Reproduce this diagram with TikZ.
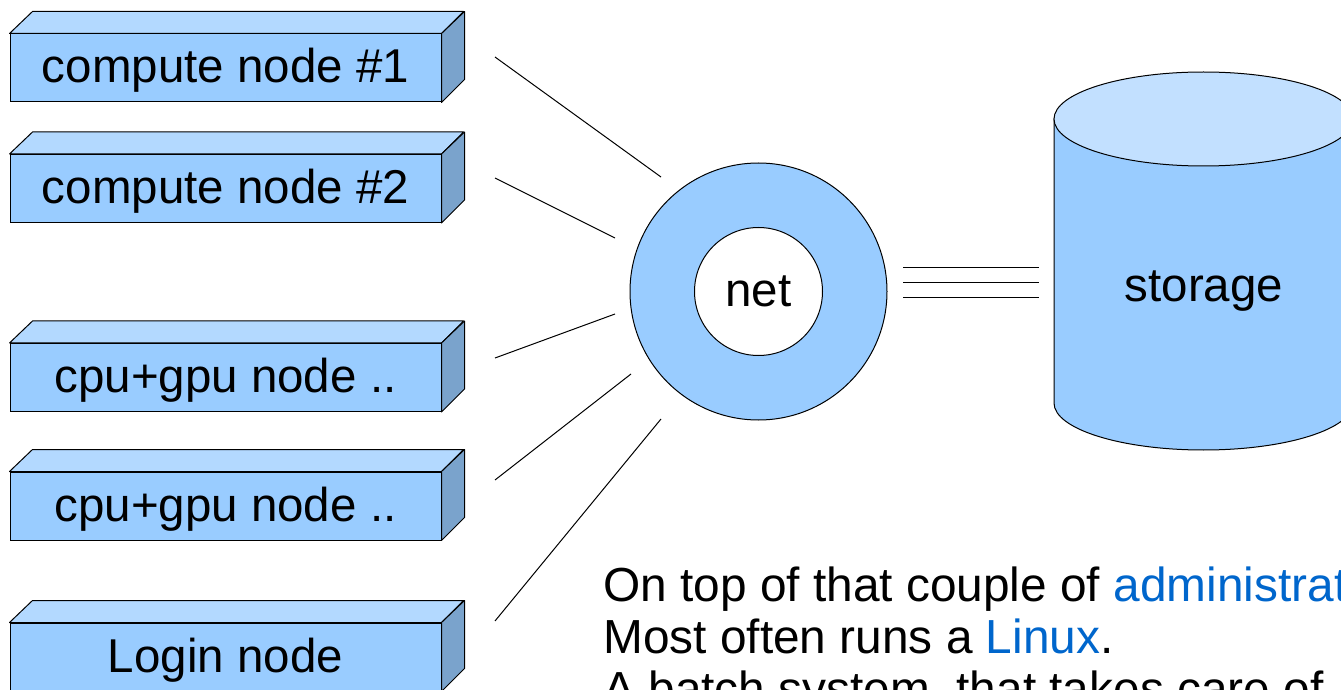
\documentclass[tikz,border=0pt]{standalone}
\usepackage{fontspec}
\setmainfont{Liberation Sans}
\usetikzlibrary{positioning,calc}
\definecolor{nodeblue}{HTML}{99CCFF}
\definecolor{nodetop}{HTML}{B3D9FF}
\definecolor{nodeside}{HTML}{7AA3CC}
\definecolor{disktop}{HTML}{C2E0FF}
\definecolor{linkblue}{HTML}{0066CC}

\begin{document}
\begin{tikzpicture}[
    x=0.5pt, y=-0.5pt,
    big/.style={font=\fontsize{23.75}{26}\selectfont},
    lbl/.style={big, text height=17.5pt, text depth=2.5pt},
    hw/.style={draw, fill=nodeblue, minimum width=215.5pt, minimum height=34pt,
               inner sep=0pt, line width=0.5pt, lbl},
    topface/.style={draw, fill=nodetop, line width=0.5pt, line join=round},
    sideface/.style={draw, fill=nodeside, line width=0.5pt, line join=round},
    ring/.style={draw, circle, fill=nodeblue, minimum size=128.5pt, inner sep=0pt, line width=0.5pt},
    hub/.style={draw, circle, fill=white, minimum size=64pt, inner sep=0pt, line width=0.5pt, lbl},
    link/.style={line width=0.5pt},
  ]
    \useasboundingbox (0,0) rectangle (1341,690);
    \clip (0,0) rectangle (1341,690);

    % hardware boxes
    \node[hw] (comp1) at (225.5,68)  {compute node \#1};
    \node[hw] (comp2) at (225.5,188.5) {compute node \#2};
    \node[hw] (gpu1)  at (225.5,377.5) {cpu+gpu node ..};
    \node[hw] (gpu2)  at (225.5,506) {cpu+gpu node ..};
    \node[hw] (login) at (225.5,657) {Login node};
    \foreach \n in {comp1,comp2,gpu1,gpu2,login} {
      \path[topface] (\n.north west) -- ++(23,-22) -- ++(431,0) -- (\n.north east) -- cycle;
      \path[sideface] (\n.north east) -- ++(23,-22) -- ++(0,68) -- (\n.south east) -- cycle;
    }

    % network
    \node[ring] (netring) at (758.5,291.5) {};
    \node[hub]  (net) at (netring) {net};

    % storage
    \path[draw, fill=nodeblue, line width=0.5pt] (1054,119) -- (1054,403)
      arc[start angle=180, end angle=360, x radius=74.75pt, y radius=23.5pt]
      -- (1353,119) -- cycle;
    \path[draw, fill=disktop, line width=0.5pt] (1203.5,119) ellipse [x radius=74.75pt, y radius=23.5pt];
    \node[lbl] (storage) at (1204,286) {storage};

    % links
    \coordinate (f1a) at (495,57);  \coordinate (f1b) at (661,177);
    \coordinate (f2a) at (495,178); \coordinate (f2b) at (615,238);
    \coordinate (f3a) at (495,358); \coordinate (f3b) at (615,314);
    \coordinate (f4a) at (495,480); \coordinate (f4b) at (631,374);
    \coordinate (f5a) at (495,621); \coordinate (f5b) at (661,419);
    \draw[link] (f1a) -- (f1b);
    \draw[link] (f2a) -- (f2b);
    \draw[link] (f3a) -- (f3b);
    \draw[link] (f4a) -- (f4b);
    \draw[link] (f5a) -- (f5b);
    \coordinate (s1a) at (903,268); \coordinate (s1b) at (1039,268);
    \coordinate (s2a) at (903,283); \coordinate (s2b) at (1039,283);
    \coordinate (s3a) at (903,298); \coordinate (s3b) at (1039,298);
    \draw[link] (s1a) -- (s1b);
    \draw[link] (s2a) -- (s2b);
    \draw[link] (s3a) -- (s3b);

    % notes
    \node[font=\fontsize{23.9}{26}\selectfont, align=left, anchor=base west, inner sep=0pt]
      (notes) at (603,705)
      {On top of that couple of {\color{linkblue}administrat}\\
       Most often runs a {\color{linkblue}Linux}.\\
       A batch system, that takes care of};
\end{tikzpicture}
\end{document}
